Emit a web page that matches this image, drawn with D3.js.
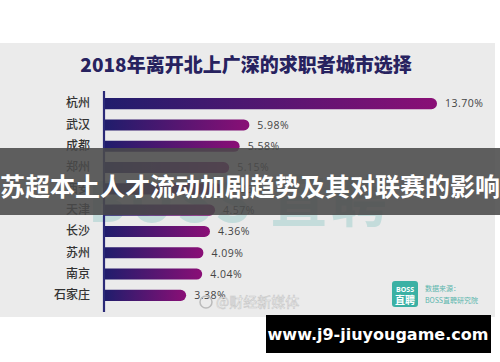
<!DOCTYPE html>
<html><head><meta charset="utf-8">
<script src="https://cdn.jsdelivr.net/npm/d3@7"></script>
<style>html,body{margin:0;padding:0;background:#fff;}svg{display:block;}</style>
</head><body>
<script>
const title = "2018年离开北上广深的求职者城市选择";
const banner = "苏超本土人才流动加剧趋势及其对联赛的影响";
const cities = ["杭州","武汉","成都","郑州","西安","天津","长沙","苏州","南京","石家庄"];
const shares = [13.70,5.98,5.58,5.15,4.86,4.57,4.36,4.09,4.04,3.38];
const site = "www.j9-jiuyougame.com";

const W = 500, H = 362;
const svg = d3.select("body").append("svg").attr("width", W).attr("height", H);
const defs = svg.append("defs");
const g = defs.append("linearGradient").attr("id","barGrad").attr("x1","0%").attr("x2","100%").attr("y1","0%").attr("y2","0%");
g.append("stop").attr("offset","0%").attr("stop-color","#201d6c");
g.append("stop").attr("offset","100%").attr("stop-color","#8a0f76");

// panel
svg.append("rect").attr("x",0).attr("y",43).attr("width",495).attr("height",274).attr("fill","#ebebeb");

// faint background watermark
svg.append("text").attr("x",88).attr("y",222).attr("font-family","'Noto Sans CJK SC',sans-serif")
  .attr("font-weight",700).attr("font-size",56).attr("fill","#c4dcdb").attr("letter-spacing",4).text("BOSS 直聘");

svg.append("text").attr("x",246).attr("y",72).attr("text-anchor","middle")
  .attr("font-family","'Noto Sans CJK SC',sans-serif").attr("font-weight",900).attr("font-size",19)
  .attr("fill","#27225f").text(title);

const x = d3.scaleLinear().domain([0,13.7]).range([104,437]);
const y = d3.scaleBand().domain(cities).range([93,306]).paddingInner(0.48).paddingOuter(0.24);

const yAxis = svg.append("g").attr("transform","translate(104,0)")
  .call(d3.axisLeft(y).tickSize(0).tickPadding(14));
yAxis.select(".domain").remove();
yAxis.selectAll("text").attr("font-family","'Noto Sans CJK SC',sans-serif").attr("font-size",12)
  .attr("fill","#333").attr("font-weight",500);

svg.append("line").attr("x1",104).attr("x2",104).attr("y1",91).attr("y2",312)
  .attr("stroke","#2b2a78").attr("stroke-width",2.2);

const data = cities.map((c,i)=>({c, v:shares[i]}));
const bh = y.bandwidth();
svg.append("g").selectAll("path").data(data).join("path")
  .attr("d", d => {
    const x0 = x(0)+1, x1 = x(d.v), y0 = y(d.c), r = bh/2;
    return `M${x0},${y0}H${x1-r}A${r},${r} 0 0 1 ${x1-r},${y0+bh}H${x0}Z`;
  })
  .attr("fill","url(#barGrad)");

svg.append("g").selectAll("text").data(data).join("text")
  .attr("x", d => x(d.v)+8).attr("y", d => y(d.c)+bh/2).attr("dy","0.36em")
  .attr("font-family","'Open Sans',sans-serif").attr("font-size",10.5).attr("fill","#444")
  .attr("letter-spacing",0.5).text(d => d.v.toFixed(2)+"%");

// weibo watermark
svg.append("circle").attr("cx",206).attr("cy",302).attr("r",6).attr("fill","none").attr("stroke","#bbb").attr("stroke-width",1.5);
svg.append("text").attr("x",216).attr("y",307).attr("font-family","'Noto Sans CJK SC',sans-serif")
  .attr("font-size",14).attr("fill","#fafafa").attr("stroke","#c8c8c8").attr("stroke-width",0.6).text("@财经新媒体");

// BOSS logo
svg.append("rect").attr("x",392).attr("y",281).attr("width",26).attr("height",26).attr("rx",3).attr("fill","#3bb1a4");
svg.append("text").attr("x",405).attr("y",292).attr("text-anchor","middle").attr("font-family","'Open Sans',sans-serif")
  .attr("font-weight",700).attr("font-size",7).attr("fill","#fff").text("BOSS");
svg.append("text").attr("x",405).attr("y",304).attr("text-anchor","middle").attr("font-family","'Noto Sans CJK SC',sans-serif")
  .attr("font-weight",700).attr("font-size",10).attr("fill","#fff").text("直聘");
svg.append("text").attr("x",425).attr("y",291).attr("font-family","'Noto Sans CJK SC',sans-serif")
  .attr("font-size",7).attr("fill","#5bb6ad").text("数据来源：");
svg.append("text").attr("x",425).attr("y",303).attr("font-family","'Noto Sans CJK SC',sans-serif")
  .attr("font-size",7).attr("fill","#5bb6ad").text("BOSS直聘研究院");

// banner overlay
svg.append("rect").attr("x",0).attr("y",148).attr("width",W).attr("height",67).attr("fill","#4a4a4a").attr("opacity",0.88);
svg.append("text").attr("x",250).attr("y",196).attr("text-anchor","middle")
  .attr("font-family","'Noto Sans CJK SC',sans-serif").attr("font-weight",700).attr("font-size",25)
  .attr("fill","#fff").text(banner);

// site watermark
svg.append("rect").attr("x",266).attr("y",315).attr("width",225).attr("height",38).attr("fill","#000");
svg.append("text").attr("x",378).attr("y",340).attr("text-anchor","middle")
  .attr("font-family","'DejaVu Sans',sans-serif").attr("font-weight",700).attr("font-size",16)
  .attr("fill","#fff").text(site);
</script>
</body></html>
